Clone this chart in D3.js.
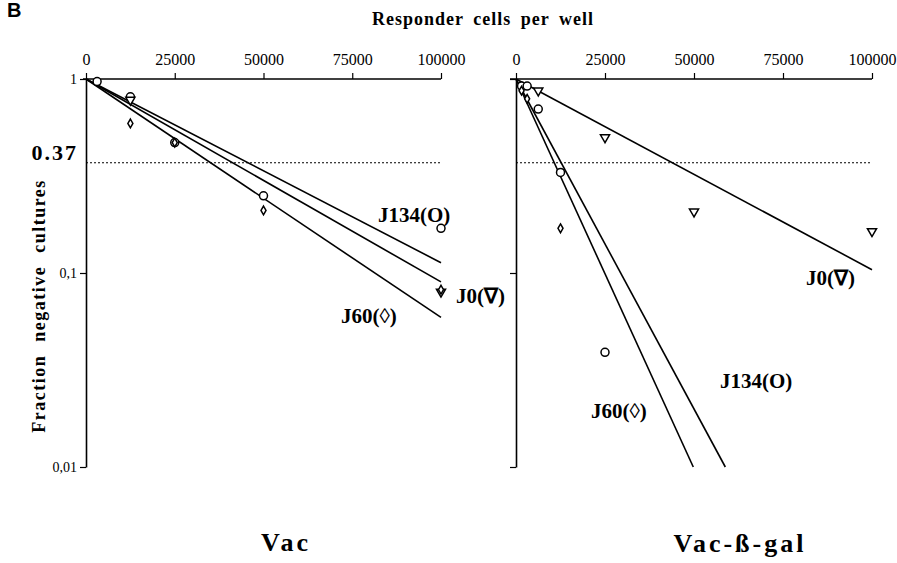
<!DOCTYPE html>
<html>
<head>
<meta charset="utf-8">
<script src="https://cdn.jsdelivr.net/npm/d3@7"></script>
<style>
  body { margin: 0; background: #fff; }
  svg { display: block; }
  text { font-family: "Liberation Serif", "Times New Roman", serif; fill: #000; }
</style>
</head>
<body>
<div id="chart"></div>
<script>
// x ticks (responder cells per well) and y ticks
const xTicks = [0, 25000, 50000, 75000, 100000];
const yTicks = [1, 0.1, 0.01];
const yTickLabels = ["1", "0,1", "0,01"];

// Vac panel: observed fractions of negative cultures
const vacCircle = [[3125, 0.97], [12500, 0.81], [25000, 0.47], [50000, 0.25], [100000, 0.17]];
const vacTriangle = [[12500, 0.78], [100000, 0.08]];
const vacDiamond = [[12500, 0.59], [25000, 0.47], [50000, 0.21], [100000, 0.082]];
// fitted lines: [name, x end, fraction at x end]
const vacFits = [["J134", 100000, 0.113], ["J0", 100000, 0.090], ["J60", 100000, 0.059]];

// Vac-ß-gal panel
const galCircle = [[1562, 0.92], [3125, 0.92], [6250, 0.70], [12500, 0.33], [25000, 0.039]];
const galTriangle = [[6250, 0.87], [25000, 0.50], [50000, 0.207], [100000, 0.164]];
const galDiamond = [[1562, 0.87], [3125, 0.79], [12500, 0.17]];
const galFits = [["J0", 100000, 0.104], ["J60", 49800, 0.01], ["J134", 58800, 0.01]];

const threshold = 0.37;

const width = 897, height = 563;
const svg = d3.select("#chart").append("svg")
  .attr("width", width).attr("height", height);

const y = d3.scaleLog().domain([0.01, 1]).range([467, 79]);

function symbolPath(type, size) {
  return d3.symbol().type(type).size(size)();
}

function panel(x0, x1, circles, triangles, diamonds, fits, showYLabels) {
  const x = d3.scaleLinear().domain([0, 100000]).range([x0, x1]);
  const g = svg.append("g");

  // top x axis
  const xa = g.append("g")
    .attr("transform", `translate(0,${y(1)})`)
    .call(d3.axisTop(x).tickValues(xTicks).tickSize(6).tickSizeOuter(0).tickPadding(8)
      .tickFormat(d3.format("d")));
  xa.select(".domain").attr("stroke-width", 1.6)
    .attr("d", `M${x0 - (showYLabels ? 3 : 6)},0H${x1}`);
  xa.selectAll(".tick line").attr("stroke-width", 1.2);
  xa.selectAll(".tick text").style("font-size", "16px")
    .style("font-family", "'Liberation Serif', serif");

  // left y axis
  const ya = g.append("g")
    .attr("transform", `translate(${x0},0)`)
    .call(d3.axisLeft(y).tickValues(yTicks).tickSize(6).tickSizeOuter(0).tickPadding(3)
      .tickFormat((d, i) => showYLabels ? yTickLabels[i] : ""));
  ya.select(".domain").attr("stroke-width", 1.6);
  ya.selectAll(".tick line").attr("stroke-width", 1.2);
  ya.selectAll(".tick text").style("font-size", "14px")
    .style("font-family", "'Liberation Serif', serif");

  // 0.37 dotted line
  g.append("line")
    .attr("x1", x0).attr("x2", x1)
    .attr("y1", y(threshold)).attr("y2", y(threshold))
    .attr("stroke", "#000").attr("stroke-width", 1.2)
    .attr("stroke-dasharray", "2,2");

  // fitted lines from (0, 1)
  g.selectAll(".fit").data(fits).join("line")
    .attr("class", "fit")
    .attr("x1", x(0)).attr("y1", y(1))
    .attr("x2", d => x(d[1])).attr("y2", d => y(d[2]))
    .attr("stroke", "#000").attr("stroke-width", 1.6);

  const pts = g.append("g").attr("fill", "#fff").attr("stroke", "#000").attr("stroke-width", 1.5);
  pts.selectAll(".c").data(circles).join("circle")
    .attr("cx", d => x(d[0])).attr("cy", d => y(d[1])).attr("r", 4);
  pts.selectAll(".t").data(triangles).join("path")
    .attr("d", symbolPath(d3.symbolTriangle, 36))
    .attr("transform", d => `translate(${x(d[0])},${y(d[1])}) rotate(180)`);
  pts.selectAll(".d").data(diamonds).join("path")
    .attr("d", symbolPath(d3.symbolDiamond, 22))
    .attr("transform", d => `translate(${x(d[0])},${y(d[1])})`);

  return x;
}

panel(86, 441, vacCircle, vacTriangle, vacDiamond, vacFits, true);
panel(516, 872, galCircle, galTriangle, galDiamond, galFits, false);

function label(txt, xp, yp, size, opts = {}) {
  const t = svg.append("text")
    .attr("x", xp).attr("y", yp)
    .style("font-size", size + "px")
    .style("font-weight", "bold")
    .attr("text-anchor", opts.anchor || "start")
    .text(txt);
  if (opts.spacing) t.style("letter-spacing", opts.spacing + "px");
  if (opts.word) t.style("word-spacing", opts.word + "px");
  if (opts.family) t.style("font-family", opts.family);
  if (opts.rotate) t.attr("transform", `rotate(${opts.rotate},${xp},${yp})`);
  return t;
}

label("B", 7, 17, 20, { family: "'Liberation Sans', Arial, sans-serif" });
label("Responder cells per well", 483, 25, 18, { anchor: "middle", spacing: 1, word: 4 });
label("0.37", 78, 160, 22, { anchor: "end", spacing: 2 });
label("Fraction negative cultures", 45, 306, 18, { anchor: "middle", rotate: -90, spacing: 1.5, word: 7 });

label("J134(O)", 378, 222, 21);
label("J0(\u2207)", 456, 303, 21);
label("J60(\u25CA)", 341, 323, 21);

label("J0(\u2207)", 806, 285, 21);
label("J134(O)", 720, 388, 21);
label("J60(\u25CA)", 591, 418, 21);

label("Vac", 286, 551, 26, { anchor: "middle", spacing: 3 });
label("Vac-\u00DF-gal", 740, 552, 26, { anchor: "middle", spacing: 3 });
</script>
</body>
</html>
